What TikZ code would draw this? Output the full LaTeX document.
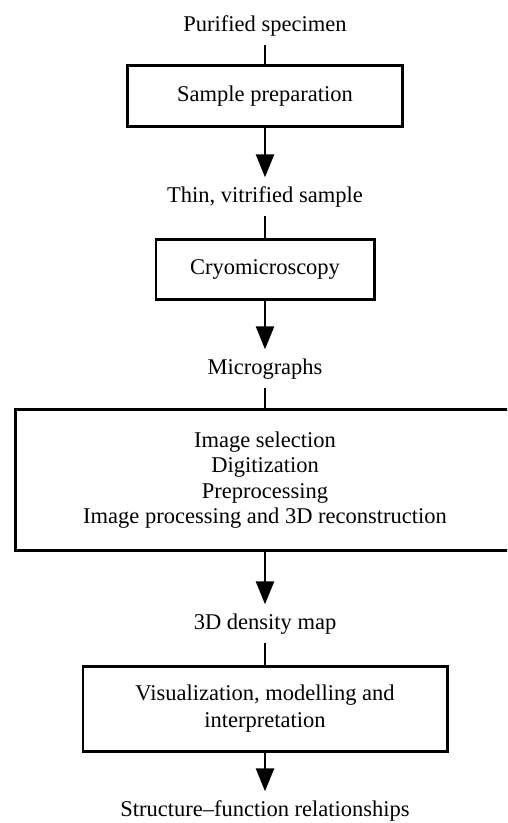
\documentclass[tikz,border=0pt]{standalone}
\usepackage{fontspec}
\setmainfont{Liberation Serif}
\usetikzlibrary{arrows.meta}

\begin{document}
\begin{tikzpicture}[x=1pt,y=-1pt,font=\fontsize{22.5}{25.5}\selectfont,
    stage/.style={draw,line width=2.6pt,align=center,inner sep=0pt},
    result/.style={inner xsep=0pt,inner ysep=9pt,text height=15.5pt,text depth=5pt,anchor=base},
    flow/.style={line width=2.6pt},
    flowarrow/.style={flow,-{Triangle[length=23pt,width=18pt]}}]
  \useasboundingbox (0,0) rectangle (507,823);
  \clip (0,0) rectangle (507,823);

  % stadi e risultati
  \node[result] (specimen) at (265,31) {Purified specimen};
  \node[stage,minimum width=275.4pt,minimum height=61.4pt] (prep) at (265,96) {Sample preparation};
  \node[result] (vitrified) at (265,202) {Thin, vitrified sample};
  \node[stage,minimum width=218.4pt,minimum height=60.4pt] (cryo) at (265,269.5) {Cryomicroscopy};
  \node[result] (micro) at (265,374) {Micrographs};
  \node[stage,minimum width=499.4pt,minimum height=141.4pt] (proc) at (265,480)
    {Image selection\\Digitization\\Preprocessing\\Image processing and 3D reconstruction};
  \node[result] (density) at (265,629) {3D density map};
  \node[stage,minimum width=364.4pt,minimum height=85.4pt] (vis) at (265,709)
    {Visualization, modelling and\\[1.5pt]interpretation};
  \node[result] (relation) at (265,816) {Structure–function relationships};

  \draw[flow] (specimen.south) -- (prep.north);
  \draw[flowarrow] (prep.south) -- (vitrified.north);
  \draw[flow] (vitrified.south) -- (cryo.north);
  \draw[flowarrow] (cryo.south) -- (micro.north);
  \draw[flow] (micro.south) -- (proc.north);
  \draw[flowarrow] (proc.south) -- (density.north);
  \draw[flow] (density.south) -- (vis.north);
  \draw[flowarrow] (vis.south) -- (relation.north);
\end{tikzpicture}
\end{document}
